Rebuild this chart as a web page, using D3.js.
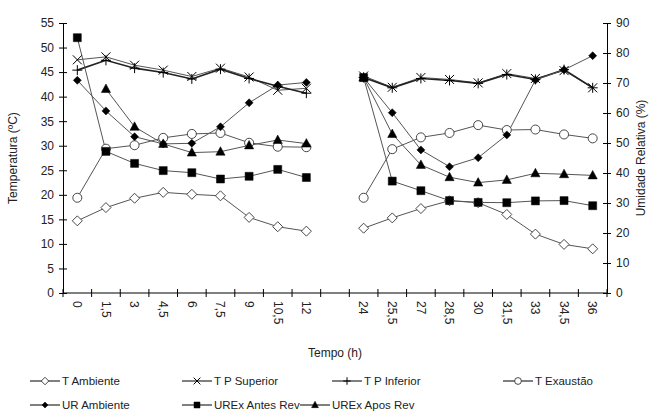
<!DOCTYPE html>
<html>
<head>
<meta charset="utf-8">
<script src="https://cdn.jsdelivr.net/npm/d3@7"></script>
<style>
  body { margin: 0; background: #fff; }
  svg { font-family: "Liberation Sans", Arial, sans-serif; }
</style>
</head>
<body>
<div id="chart"></div>
<script>
// categorias do eixo x (a posicao vazia separa os dois dias)
const tempo = ["0", "1,5", "3", "4,5", "6", "7,5", "9", "10,5", "12", "",
  "24", "25,5", "27", "28,5", "30", "31,5", "33", "34,5", "36"];

// temperaturas (ºC) - eixo esquerdo
const tAmbiente = [14.7, 17.4, 19.3, 20.5, 20.1, 19.8, 15.4, 13.5, 12.6, null,
  13.2, 15.3, 17.2, 18.8, 18.4, 16.0, 12.0, 9.9, 9.0];
const tpSuperior = [47.5, 48.1, 46.4, 45.4, 44.1, 45.8, 44.0, 41.3, 41.7, null,
  44.2, 41.9, 43.9, 43.5, 42.8, 44.7, 43.7, 45.3, 41.8];
const tpInferior = [45.4, 47.4, 45.8, 44.9, 43.6, 45.6, 43.7, 42.1, 40.7, null,
  43.9, 41.8, 43.7, 43.3, 42.7, 44.5, 43.5, 45.5, 41.8];
const tExaustao = [19.4, 29.4, 30.1, 31.6, 32.4, 32.6, 30.6, 29.8, 29.7, null,
  19.4, 29.3, 31.7, 32.6, 34.2, 33.2, 33.3, 32.3, 31.5];

// umidade relativa (%) - eixo direito
const urAmbiente = [70.9, 60.7, 52.1, 49.7, 49.9, 55.4, 63.4, 69.3, 70.2, null,
  71.8, 60.1, 47.7, 42.1, 45.1, 52.7, 71.0, 74.4, 79.1];
const urexAntes = [85.1, 47.2, 43.2, 40.8, 40.1, 38.0, 38.9, 41.2, 38.5, null,
  71.8, 37.3, 34.1, 30.8, 30.2, 30.1, 30.7, 30.8, 29.1];
const urexApos = [null, 68.0, 55.4, 49.7, 46.8, 47.1, 49.2, 51.0, 49.8, null,
  71.8, 53.0, 42.7, 38.6, 36.8, 37.7, 39.9, 39.6, 39.2];

const tempTicks = d3.range(0, 56, 5);
const urTicks = d3.range(0, 91, 10);

const series = [
  { name: "T Ambiente", values: tAmbiente, axis: "L", marker: "diamondOpen" },
  { name: "T P Superior", values: tpSuperior, axis: "L", marker: "x" },
  { name: "T P Inferior", values: tpInferior, axis: "L", marker: "plus", width: 1.6 },
  { name: "T Exaustão", values: tExaustao, axis: "L", marker: "circleOpen" },
  { name: "UR Ambiente", values: urAmbiente, axis: "R", marker: "diamond" },
  { name: "UREx Antes Rev", values: urexAntes, axis: "R", marker: "square" },
  { name: "UREx Apos Rev", values: urexApos, axis: "R", marker: "triangle" }
];

const W = 658, H = 418;
const margin = { left: 63, right: 51, top: 23, bottom: 125 };

const svg = d3.select("#chart").append("svg")
  .attr("width", W).attr("height", H);

const x = d3.scaleBand()
  .domain(d3.range(tempo.length))
  .range([margin.left, W - margin.right])
  .padding(0);

const yL = d3.scaleLinear().domain([0, 55]).range([H - margin.bottom, margin.top]);
const yR = d3.scaleLinear().domain([0, 90]).range([H - margin.bottom, margin.top]);

const ink = "#222";
const lineColor = "#555";

// marcadores
function markerPath(type) {
  switch (type) {
    case "diamondOpen": return "M0,-5L5,0L0,5L-5,0Z";
    case "diamond": return "M0,-4L4,0L0,4L-4,0Z";
    case "square": return "M-4,-4H4V4H-4Z";
    case "triangle": return "M0,-5L4.6,3.5H-4.6Z";
    case "x": return "M-4.5,-4.5L4.5,4.5M-4.5,4.5L4.5,-4.5";
    case "plus": return "M-5,0H5M0,-5V5";
    case "circleOpen": return d3.symbol(d3.symbolCircle, 64)();
  }
}
function drawMarker(g, type, px, py, k = 1) {
  const open = type === "diamondOpen" || type === "circleOpen";
  const stroked = type === "x" || type === "plus";
  g.append("path")
    .attr("d", markerPath(type))
    .attr("transform", `translate(${px},${py}) scale(${k})`)
    .attr("fill", open ? "#fff" : (stroked ? "none" : "#000"))
    .attr("stroke", open ? "#333" : "#000")
    .attr("stroke-width", (stroked ? 1 : (open ? 0.9 : 0.5)) / k);
}

// eixo esquerdo
const axisL = svg.append("g")
  .attr("transform", `translate(${margin.left},0)`)
  .call(d3.axisLeft(yL).tickValues(tempTicks).tickSize(4).tickPadding(5));
axisL.selectAll(".tick line").attr("x2", -4).attr("x1", 4);

// eixo direito
const axisR = svg.append("g")
  .attr("transform", `translate(${W - margin.right},0)`)
  .call(d3.axisRight(yR).tickValues(urTicks).tickSize(4).tickPadding(5));
axisR.selectAll(".tick line").attr("x1", -4).attr("x2", 4);

// eixo x: rotulos no centro, marcas entre categorias
const axisX = svg.append("g")
  .attr("transform", `translate(0,${H - margin.bottom})`)
  .call(d3.axisBottom(x).tickFormat(i => tempo[i]).tickSize(0));
axisX.selectAll(".tick text")
  .attr("transform", "rotate(90)")
  .attr("text-anchor", "start")
  .attr("x", 8).attr("y", 0).attr("dy", "0.35em");
axisX.select(".domain").attr("d", `M${margin.left},0H${W - margin.right}`);
const bounds = d3.range(tempo.length).map(i => x(i)).concat([x(tempo.length - 1) + x.bandwidth()]);
axisX.selectAll(".bound").data(bounds).join("line")
  .attr("class", "bound")
  .attr("x1", d => d).attr("x2", d => d)
  .attr("y1", -4).attr("y2", 4)
  .attr("stroke", "#000");

svg.selectAll(".domain, .tick line").attr("stroke", "#000");
svg.selectAll(".tick text").attr("font-size", 12).attr("fill", ink)
  .attr("font-family", "'Liberation Sans', Arial, sans-serif");

// titulos dos eixos
svg.append("text")
  .attr("transform", `translate(17,${(yL(0) + yL(55)) / 2}) rotate(-90)`)
  .attr("text-anchor", "middle").attr("font-size", 12).attr("fill", ink)
  .text("Temperatura (ºC)");
svg.append("text")
  .attr("transform", `translate(645,${(yR(0) + yR(90)) / 2}) rotate(-90)`)
  .attr("text-anchor", "middle").attr("font-size", 12).attr("fill", ink)
  .text("Umidade Relativa (%)");
svg.append("text")
  .attr("x", (margin.left + W - margin.right) / 2).attr("y", 357)
  .attr("text-anchor", "middle").attr("font-size", 12).attr("fill", ink)
  .text("Tempo (h)");

// linhas e marcadores
const plot = svg.append("g");
series.forEach(s => {
  const y = s.axis === "L" ? yL : yR;
  const line = d3.line()
    .defined(d => d != null)
    .x((d, i) => x(i) + x.bandwidth() / 2)
    .y(d => y(d));
  plot.append("path")
    .datum(s.values)
    .attr("d", line)
    .attr("fill", "none")
    .attr("stroke", s.width ? "#222" : lineColor)
    .attr("stroke-width", s.width || 1);
});
series.forEach(s => {
  const y = s.axis === "L" ? yL : yR;
  const g = plot.append("g");
  s.values.forEach((d, i) => {
    if (d == null) return;
    drawMarker(g, s.marker, x(i) + x.bandwidth() / 2, y(d));
  });
});

// legenda
const legendPos = [
  [30, 381], [182, 381], [332, 381], [503, 381],
  [30, 405], [182, 405], [300, 405]
];
const legend = svg.append("g");
series.forEach((s, i) => {
  const [lx, ly] = legendPos[i];
  legend.append("line")
    .attr("x1", lx).attr("x2", lx + 30)
    .attr("y1", ly).attr("y2", ly)
    .attr("stroke", "#000").attr("stroke-width", 1);
  drawMarker(legend, s.marker, lx + 15, ly, 0.75);
  legend.append("text")
    .attr("x", lx + 32).attr("y", ly).attr("dy", "0.35em")
    .attr("font-size", 11.5).attr("fill", ink)
    .text(s.name);
});
</script>
</body>
</html>
